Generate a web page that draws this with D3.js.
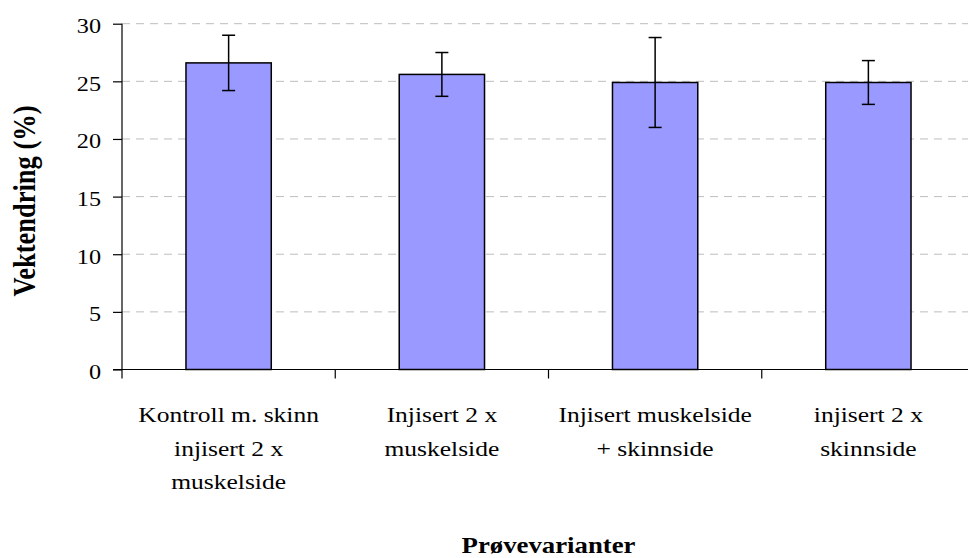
<!DOCTYPE html>
<html>
<head>
<meta charset="utf-8">
<script src="https://cdn.jsdelivr.net/npm/d3@7"></script>
<style>
  html, body { margin: 0; padding: 0; background: #fff; }
  svg { display: block; }
  text { font-family: "Liberation Serif", "Times New Roman", serif; fill: #000; }
</style>
</head>
<body>
<svg id="chart" width="968" height="558"></svg>
<script>
// ---- data ----
const categories = ["Kontroll m. skinn|injisert 2 x|muskelside", "Injisert 2 x|muskelside", "Injisert muskelside|+ skinnside", "injisert 2 x|skinnside"];
const values = [26.6, 25.6, 24.9, 24.9];
const errors = [2.4, 1.9, 3.9, 1.9];
const yTicks = [0, 5, 10, 15, 20, 25, 30];
const yTitle = "Vektendring (%)";
const xTitle = "Prøvevarianter";

// ---- layout ----
const svg = d3.select("#chart");
const pLeft = 122, pRight = 975, pTop = 23.7, pBottom = 369.5;

const x = d3.scaleBand().domain(d3.range(categories.length)).range([pLeft, pRight])
  .paddingInner(0.6).paddingOuter(0.3);
const y = d3.scaleLinear().domain([0, 30]).range([pBottom, pTop]);

// gridlines
svg.append("g").selectAll("line").data(yTicks.filter(d => d > 0)).join("line")
  .attr("x1", pLeft).attr("x2", 968)
  .attr("y1", d => y(d)).attr("y2", d => y(d))
  .attr("stroke", "#bdbdbd").attr("stroke-width", 1).attr("stroke-dasharray", "8,6");

// bars
svg.append("g").selectAll("rect").data(values).join("rect")
  .attr("x", (d, i) => x(i)).attr("width", x.bandwidth())
  .attr("y", d => y(d)).attr("height", d => y(0) - y(d))
  .attr("fill", "#9999ff").attr("stroke", "#000").attr("stroke-width", 1.5);

// error bars
const eg = svg.append("g").attr("stroke", "#000").attr("stroke-width", 1.5);
values.forEach((v, i) => {
  const cx = x(i) + x.bandwidth() / 2;
  eg.append("line").attr("x1", cx).attr("x2", cx).attr("y1", y(v + errors[i])).attr("y2", y(v - errors[i]));
  eg.append("line").attr("x1", cx - 6.5).attr("x2", cx + 6.5).attr("y1", y(v + errors[i])).attr("y2", y(v + errors[i]));
  eg.append("line").attr("x1", cx - 6.5).attr("x2", cx + 6.5).attr("y1", y(v - errors[i])).attr("y2", y(v - errors[i]));
});

// y axis
const yAxis = d3.axisLeft(y).tickValues(yTicks).tickSize(9).tickPadding(12).tickFormat(d3.format("d"));
const yg = svg.append("g").attr("transform", `translate(${pLeft},0)`).call(yAxis);
yg.select(".domain").remove();
yg.selectAll(".tick line").attr("stroke", "#000").attr("stroke-width", 1.2);
yg.selectAll(".tick text").remove();
yg.selectAll(".tick").each(function(d) {
  d3.select(this).append("g").attr("transform", "translate(-21,9) scale(1.1,1)")
    .append("text").attr("text-anchor", "end").attr("font-size", 22).attr("fill", "#000").text(d);
});
svg.append("line").attr("x1", pLeft).attr("x2", pLeft).attr("y1", pTop).attr("y2", pBottom + 9)
  .attr("stroke", "#000").attr("stroke-width", 1.2);

// x axis line and category boundary ticks
svg.append("line").attr("x1", pLeft - 9).attr("x2", pRight).attr("y1", pBottom).attr("y2", pBottom)
  .attr("stroke", "#000").attr("stroke-width", 1.2);
svg.append("g").selectAll("line").data(d3.range(1, categories.length + 1)).join("line")
  .attr("x1", i => pLeft + i * x.step()).attr("x2", i => pLeft + i * x.step())
  .attr("y1", pBottom).attr("y2", pBottom + 9)
  .attr("stroke", "#000").attr("stroke-width", 1.2);

// category labels
categories.forEach((c, i) => {
  const cx = x(i) + x.bandwidth() / 2;
  c.split("|").forEach((line, j) => {
    svg.append("g").attr("transform", `translate(${cx},${pBottom + 52.5 + j * 33.5}) scale(1.16,1)`)
      .append("text").attr("text-anchor", "middle").attr("font-size", 22).text(line);
  });
});

// titles
svg.append("g").attr("transform", `translate(${(pLeft + pRight) / 2},553) scale(1.19,1)`)
  .append("text").attr("text-anchor", "middle").attr("font-size", 22.5).attr("font-weight", "bold").text(xTitle);
svg.append("g").attr("transform", `translate(35,201) scale(1.2,1) rotate(-90)`)
  .append("text").attr("text-anchor", "middle").attr("font-size", 26.5).attr("font-weight", "bold").text(yTitle);
</script>
</body>
</html>
